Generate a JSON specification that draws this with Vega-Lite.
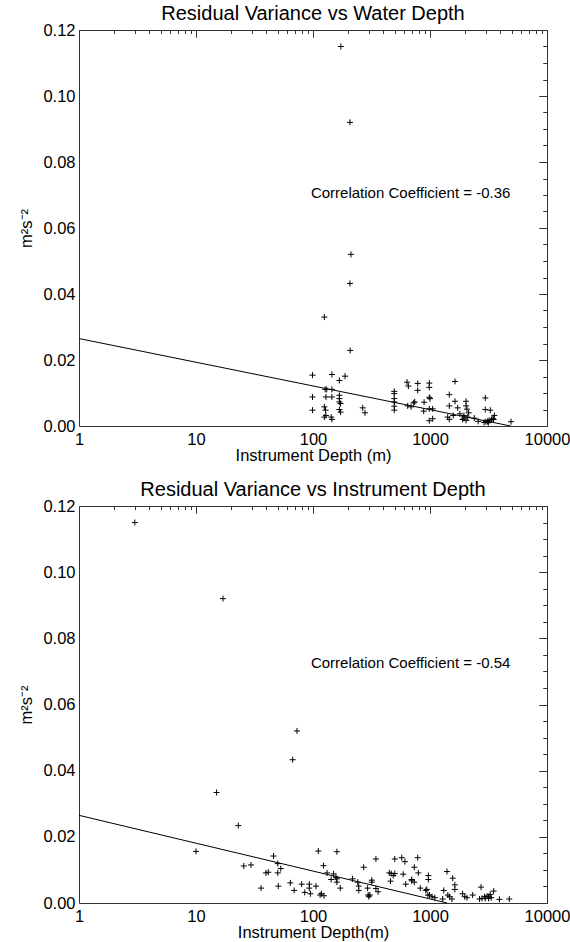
{
  "$schema": "https://vega.github.io/schema/vega-lite/v6.json",
  "background": "white",
  "padding": {"left": 18, "right": 0, "top": 3, "bottom": 0},
  "spacing": 14,
  "config": {
    "font": "Liberation Sans",
    "view": {"stroke": "#333", "strokeWidth": 1},
    "axis": {"grid": false, "domain": false, "labelColor": "#000", "titleColor": "#000", "tickColor": "#333", "tickWidth": 1, "labelFont": "Liberation Sans", "titleFont": "Liberation Sans", "titleFontWeight": "normal", "labelFontSize": 16.5, "titleFontSize": 16.5},
    "title": {"fontSize": 20, "fontWeight": "normal", "color": "#000", "font": "Liberation Sans"}
  },
  "datasets": {
    "top": [
      {"depth":173,"variance":0.115},{"depth":207,"variance":0.092},{"depth":211,"variance":0.052},{"depth":207,"variance":0.0432},{"depth":125,"variance":0.033},{"depth":208,"variance":0.0229},
      {"depth":99,"variance":0.0154},{"depth":145,"variance":0.0156},{"depth":168,"variance":0.0138},{"depth":188,"variance":0.0151},
      {"depth":127,"variance":0.0111},{"depth":131,"variance":0.0111},{"depth":145,"variance":0.0111},
      {"depth":99,"variance":0.0088},{"depth":129,"variance":0.0088},{"depth":145,"variance":0.0088},
      {"depth":168,"variance":0.0093},{"depth":168,"variance":0.0083},{"depth":168,"variance":0.0073},{"depth":172,"variance":0.0068},
      {"depth":99,"variance":0.0048},{"depth":125,"variance":0.0058},{"depth":128,"variance":0.0048},{"depth":125,"variance":0.0027},{"depth":129,"variance":0.0032},{"depth":143,"variance":0.0027},{"depth":145,"variance":0.002},
      {"depth":172,"variance":0.0042},{"depth":168,"variance":0.005},
      {"depth":266,"variance":0.0055},{"depth":278,"variance":0.004},
      {"depth":495,"variance":0.0105},{"depth":495,"variance":0.0098},{"depth":495,"variance":0.0083},{"depth":495,"variance":0.0073},{"depth":495,"variance":0.006},{"depth":495,"variance":0.0048},
      {"depth":636,"variance":0.0133},{"depth":653,"variance":0.0121},{"depth":645,"variance":0.0061},{"depth":689,"variance":0.0058},{"depth":725,"variance":0.007},{"depth":740,"variance":0.0073},
      {"depth":785,"variance":0.0129},{"depth":785,"variance":0.0108},{"depth":883,"variance":0.0045},{"depth":890,"variance":0.0072},
      {"depth":986,"variance":0.013},{"depth":986,"variance":0.0117},{"depth":986,"variance":0.0087},{"depth":1000,"variance":0.0083},{"depth":986,"variance":0.0052},{"depth":1054,"variance":0.0052},{"depth":986,"variance":0.0016},{"depth":1054,"variance":0.0022},
      {"depth":1462,"variance":0.0095},{"depth":1462,"variance":0.0061},{"depth":1636,"variance":0.0135},{"depth":1636,"variance":0.0075},{"depth":1725,"variance":0.0055},{"depth":1416,"variance":0.0027},{"depth":1462,"variance":0.002},{"depth":1580,"variance":0.0032},{"depth":1800,"variance":0.0037},
      {"depth":2033,"variance":0.0075},{"depth":2033,"variance":0.0061},{"depth":2070,"variance":0.0051},{"depth":1950,"variance":0.0032},{"depth":1950,"variance":0.0024},{"depth":2033,"variance":0.0017},{"depth":2100,"variance":0.0027},{"depth":2140,"variance":0.004},{"depth":1900,"variance":0.002},
      {"depth":2390,"variance":0.0024},{"depth":2580,"variance":0.0014},
      {"depth":2970,"variance":0.0085},{"depth":2970,"variance":0.005},{"depth":3275,"variance":0.0048},{"depth":3000,"variance":0.0013},{"depth":3100,"variance":0.0014},{"depth":3200,"variance":0.0017},{"depth":3350,"variance":0.002},{"depth":3450,"variance":0.0022},{"depth":3550,"variance":0.0032},{"depth":3500,"variance":0.002},{"depth":2900,"variance":0.0011},{"depth":3150,"variance":0.001},
      {"depth":4925,"variance":0.0013}
    ],
    "bottom": [
      {"depth":3,"variance":0.115},{"depth":17,"variance":0.092},{"depth":73,"variance":0.052},{"depth":67,"variance":0.0433},{"depth":15,"variance":0.0334},{"depth":23,"variance":0.0234},{"depth":10,"variance":0.0156},
      {"depth":46,"variance":0.0142},{"depth":50,"variance":0.0119},{"depth":53,"variance":0.0104},{"depth":25.6,"variance":0.0112},{"depth":29.5,"variance":0.0115},{"depth":39.6,"variance":0.0091},{"depth":41.5,"variance":0.0093},{"depth":50,"variance":0.0091},
      {"depth":36,"variance":0.0045},{"depth":50.5,"variance":0.0051},{"depth":64,"variance":0.0061},{"depth":69,"variance":0.0038},{"depth":80,"variance":0.0057},{"depth":85,"variance":0.0032},{"depth":93,"variance":0.0057},{"depth":93,"variance":0.0045},{"depth":95,"variance":0.0028},{"depth":106,"variance":0.0051},
      {"depth":111,"variance":0.0157},{"depth":115,"variance":0.0024},{"depth":118,"variance":0.0028},{"depth":124,"variance":0.0022},{"depth":123,"variance":0.0113},{"depth":132,"variance":0.0091},{"depth":143,"variance":0.0071},{"depth":150,"variance":0.0088},{"depth":157,"variance":0.0078},{"depth":160,"variance":0.0073},{"depth":160,"variance":0.0155},{"depth":171,"variance":0.0045},{"depth":160,"variance":0.0063},
      {"depth":218,"variance":0.0073},{"depth":241,"variance":0.0063},{"depth":246,"variance":0.0051},{"depth":246,"variance":0.0038},{"depth":271,"variance":0.0108},{"depth":293,"variance":0.0045},{"depth":296,"variance":0.0024},{"depth":300,"variance":0.0019},{"depth":306,"variance":0.0024},{"depth":318,"variance":0.0069},{"depth":318,"variance":0.0063},{"depth":345,"variance":0.0133},{"depth":345,"variance":0.0044},{"depth":360,"variance":0.0034},
      {"depth":449,"variance":0.0091},{"depth":466,"variance":0.0089},{"depth":485,"variance":0.0083},{"depth":500,"variance":0.0089},{"depth":460,"variance":0.0066},{"depth":500,"variance":0.0133},{"depth":573,"variance":0.0137},{"depth":610,"variance":0.0125},{"depth":590,"variance":0.0087},{"depth":620,"variance":0.0057},
      {"depth":697,"variance":0.0071},{"depth":697,"variance":0.0067},{"depth":734,"variance":0.0108},{"depth":785,"variance":0.0137},{"depth":795,"variance":0.0091},{"depth":734,"variance":0.0063},{"depth":826,"variance":0.0045},{"depth":920,"variance":0.0038},{"depth":960,"variance":0.0024},{"depth":968,"variance":0.0083},{"depth":968,"variance":0.0071},{"depth":940,"variance":0.0041},{"depth":990,"variance":0.0024},{"depth":1040,"variance":0.0019},{"depth":1100,"variance":0.0016},
      {"depth":1283,"variance":0.0012},{"depth":1397,"variance":0.0095},{"depth":1563,"variance":0.0075},{"depth":1630,"variance":0.0055},{"depth":1630,"variance":0.0041},{"depth":1310,"variance":0.0038},{"depth":1420,"variance":0.0024},{"depth":1470,"variance":0.0019},{"depth":1540,"variance":0.0012},
      {"depth":1900,"variance":0.0028},{"depth":1980,"variance":0.0019},{"depth":2070,"variance":0.0016},{"depth":2317,"variance":0.0024},{"depth":2730,"variance":0.0048},{"depth":2650,"variance":0.0012},{"depth":2780,"variance":0.0014},{"depth":2920,"variance":0.0019},{"depth":2970,"variance":0.0014},{"depth":3070,"variance":0.0021},{"depth":3170,"variance":0.0019},{"depth":3170,"variance":0.0014},{"depth":3270,"variance":0.0026},{"depth":3330,"variance":0.0016},{"depth":3500,"variance":0.0036},{"depth":3920,"variance":0.0011},{"depth":4760,"variance":0.0012}
    ],
    "topline": [{"depth":1,"variance":0.0265},{"depth":4900,"variance":0}],
    "bottomline": [{"depth":1,"variance":0.0265},{"depth":1400,"variance":0}],
    "toplabel": [{"depth":96,"variance":0.0706,"label":"Correlation Coefficient = -0.36"}],
    "bottomlabel": [{"depth":96,"variance":0.0724,"label":"Correlation Coefficient = -0.54"}]
  },
  "vconcat": [
    {
      "width": 468, "height": 396,
      "title": {"text": "Residual Variance vs Water Depth", "anchor": "middle", "offset": -18, "baseline": "alphabetic"},
      "resolve": {"axis": {"x": "independent", "y": "independent"}},
      "layer": [
        {
          "data": {"name": "top"},
          "mark": {"type": "point", "shape": "M-1,0H1M0,-1V1", "size": 36, "filled": false, "stroke": "#000", "strokeWidth": 1, "opacity": 1},
          "encoding": {
            "x": {"field": "depth", "type": "quantitative", "scale": {"type": "log", "domain": [1, 10000], "nice": false},
                  "axis": {"values": [1, 10, 100, 1000, 10000], "format": "d", "ticks": false, "labelPadding": 5, "labelFlush": false, "title": "Instrument Depth (m)", "titlePadding": 0}},
            "y": {"field": "variance", "type": "quantitative", "scale": {"domain": [0, 0.12], "nice": false, "zero": false},
                  "axis": {"values": [0, 0.02, 0.04, 0.06, 0.08, 0.1, 0.12], "format": ".2f", "ticks": false, "labelPadding": 4, "title": "m²s⁻²", "titlePadding": 8}}
          }
        },
        {
          "data": {"name": "topline"},
          "mark": {"type": "line", "color": "#000", "strokeWidth": 1},
          "encoding": {
            "x": {"field": "depth", "type": "quantitative", "scale": {"type": "log", "domain": [1, 10000], "nice": false},
                  "axis": {"values": [1, 10, 100, 1000, 10000], "tickSize": 7, "offset": -7, "labels": false, "title": null}},
            "y": {"field": "variance", "type": "quantitative", "scale": {"domain": [0, 0.12], "nice": false, "zero": false},
                  "axis": {"values": [0, 0.02, 0.04, 0.06, 0.08, 0.1, 0.12], "tickSize": 8, "offset": -8, "labels": false, "title": null}}
          }
        },
        {
          "data": {"name": "topline"},
          "mark": {"type": "line", "opacity": 0},
          "encoding": {
            "x": {"field": "depth", "type": "quantitative", "scale": {"type": "log", "domain": [1, 10000], "nice": false},
                  "axis": {"values": [2,3,4,5,6,7,8,9,20,30,40,50,60,70,80,90,200,300,400,500,600,700,800,900,2000,3000,4000,5000,6000,7000,8000,9000], "tickSize": 3.5, "offset": -3.5, "labels": false, "title": null}},
            "y": {"field": "variance", "type": "quantitative", "scale": {"domain": [0, 0.12], "nice": false, "zero": false},
                  "axis": {"values": [0.005,0.01,0.015,0.025,0.03,0.035,0.045,0.05,0.055,0.065,0.07,0.075,0.085,0.09,0.095,0.105,0.11,0.115], "tickSize": 4, "offset": -4, "labels": false, "title": null}}
          }
        },
        {
          "data": {"name": "topline"},
          "mark": {"type": "line", "opacity": 0},
          "encoding": {
            "x": {"field": "depth", "type": "quantitative", "scale": {"type": "log", "domain": [1, 10000], "nice": false},
                  "axis": {"orient": "top", "values": [1, 10, 100, 1000, 10000], "tickSize": 7, "offset": -7, "labels": false, "title": null}},
            "y": {"field": "variance", "type": "quantitative", "scale": {"domain": [0, 0.12], "nice": false, "zero": false},
                  "axis": {"orient": "right", "values": [0, 0.02, 0.04, 0.06, 0.08, 0.1, 0.12], "tickSize": 8, "offset": -8, "labels": false, "title": null}}
          }
        },
        {
          "data": {"name": "topline"},
          "mark": {"type": "line", "opacity": 0},
          "encoding": {
            "x": {"field": "depth", "type": "quantitative", "scale": {"type": "log", "domain": [1, 10000], "nice": false},
                  "axis": {"orient": "top", "values": [2,3,4,5,6,7,8,9,20,30,40,50,60,70,80,90,200,300,400,500,600,700,800,900,2000,3000,4000,5000,6000,7000,8000,9000], "tickSize": 3.5, "offset": -3.5, "labels": false, "title": null}},
            "y": {"field": "variance", "type": "quantitative", "scale": {"domain": [0, 0.12], "nice": false, "zero": false},
                  "axis": {"orient": "right", "values": [0.005,0.01,0.015,0.025,0.03,0.035,0.045,0.05,0.055,0.065,0.07,0.075,0.085,0.09,0.095,0.105,0.11,0.115], "tickSize": 4, "offset": -4, "labels": false, "title": null}}
          }
        },
        {
          "data": {"name": "toplabel"},
          "mark": {"type": "text", "align": "left", "baseline": "middle", "fontSize": 15, "color": "#000"},
          "encoding": {
            "x": {"field": "depth", "type": "quantitative", "scale": {"type": "log", "domain": [1, 10000], "nice": false}, "axis": null},
            "y": {"field": "variance", "type": "quantitative", "scale": {"domain": [0, 0.12], "nice": false, "zero": false}, "axis": null},
            "text": {"field": "label"}
          }
        }
      ]
    },
    {
      "width": 468, "height": 397,
      "title": {"text": "Residual Variance vs Instrument Depth", "anchor": "middle", "offset": -18, "baseline": "alphabetic"},
      "resolve": {"axis": {"x": "independent", "y": "independent"}},
      "layer": [
        {
          "data": {"name": "bottom"},
          "mark": {"type": "point", "shape": "M-1,0H1M0,-1V1", "size": 36, "filled": false, "stroke": "#000", "strokeWidth": 1, "opacity": 1},
          "encoding": {
            "x": {"field": "depth", "type": "quantitative", "scale": {"type": "log", "domain": [1, 10000], "nice": false},
                  "axis": {"values": [1, 10, 100, 1000, 10000], "format": "d", "ticks": false, "labelPadding": 5, "labelFlush": false, "title": "Instrument Depth(m)", "titlePadding": 0}},
            "y": {"field": "variance", "type": "quantitative", "scale": {"domain": [0, 0.12], "nice": false, "zero": false},
                  "axis": {"values": [0, 0.02, 0.04, 0.06, 0.08, 0.1, 0.12], "format": ".2f", "ticks": false, "labelPadding": 4, "title": "m²s⁻²", "titlePadding": 8}}
          }
        },
        {
          "data": {"name": "bottomline"},
          "mark": {"type": "line", "color": "#000", "strokeWidth": 1},
          "encoding": {
            "x": {"field": "depth", "type": "quantitative", "scale": {"type": "log", "domain": [1, 10000], "nice": false},
                  "axis": {"values": [1, 10, 100, 1000, 10000], "tickSize": 7, "offset": -7, "labels": false, "title": null}},
            "y": {"field": "variance", "type": "quantitative", "scale": {"domain": [0, 0.12], "nice": false, "zero": false},
                  "axis": {"values": [0, 0.02, 0.04, 0.06, 0.08, 0.1, 0.12], "tickSize": 8, "offset": -8, "labels": false, "title": null}}
          }
        },
        {
          "data": {"name": "bottomline"},
          "mark": {"type": "line", "opacity": 0},
          "encoding": {
            "x": {"field": "depth", "type": "quantitative", "scale": {"type": "log", "domain": [1, 10000], "nice": false},
                  "axis": {"values": [2,3,4,5,6,7,8,9,20,30,40,50,60,70,80,90,200,300,400,500,600,700,800,900,2000,3000,4000,5000,6000,7000,8000,9000], "tickSize": 3.5, "offset": -3.5, "labels": false, "title": null}},
            "y": {"field": "variance", "type": "quantitative", "scale": {"domain": [0, 0.12], "nice": false, "zero": false},
                  "axis": {"values": [0.005,0.01,0.015,0.025,0.03,0.035,0.045,0.05,0.055,0.065,0.07,0.075,0.085,0.09,0.095,0.105,0.11,0.115], "tickSize": 4, "offset": -4, "labels": false, "title": null}}
          }
        },
        {
          "data": {"name": "bottomline"},
          "mark": {"type": "line", "opacity": 0},
          "encoding": {
            "x": {"field": "depth", "type": "quantitative", "scale": {"type": "log", "domain": [1, 10000], "nice": false},
                  "axis": {"orient": "top", "values": [1, 10, 100, 1000, 10000], "tickSize": 7, "offset": -7, "labels": false, "title": null}},
            "y": {"field": "variance", "type": "quantitative", "scale": {"domain": [0, 0.12], "nice": false, "zero": false},
                  "axis": {"orient": "right", "values": [0, 0.02, 0.04, 0.06, 0.08, 0.1, 0.12], "tickSize": 8, "offset": -8, "labels": false, "title": null}}
          }
        },
        {
          "data": {"name": "bottomline"},
          "mark": {"type": "line", "opacity": 0},
          "encoding": {
            "x": {"field": "depth", "type": "quantitative", "scale": {"type": "log", "domain": [1, 10000], "nice": false},
                  "axis": {"orient": "top", "values": [2,3,4,5,6,7,8,9,20,30,40,50,60,70,80,90,200,300,400,500,600,700,800,900,2000,3000,4000,5000,6000,7000,8000,9000], "tickSize": 3.5, "offset": -3.5, "labels": false, "title": null}},
            "y": {"field": "variance", "type": "quantitative", "scale": {"domain": [0, 0.12], "nice": false, "zero": false},
                  "axis": {"orient": "right", "values": [0.005,0.01,0.015,0.025,0.03,0.035,0.045,0.05,0.055,0.065,0.07,0.075,0.085,0.09,0.095,0.105,0.11,0.115], "tickSize": 4, "offset": -4, "labels": false, "title": null}}
          }
        },
        {
          "data": {"name": "bottomlabel"},
          "mark": {"type": "text", "align": "left", "baseline": "middle", "fontSize": 15, "color": "#000"},
          "encoding": {
            "x": {"field": "depth", "type": "quantitative", "scale": {"type": "log", "domain": [1, 10000], "nice": false}, "axis": null},
            "y": {"field": "variance", "type": "quantitative", "scale": {"domain": [0, 0.12], "nice": false, "zero": false}, "axis": null},
            "text": {"field": "label"}
          }
        }
      ]
    }
  ]
}
